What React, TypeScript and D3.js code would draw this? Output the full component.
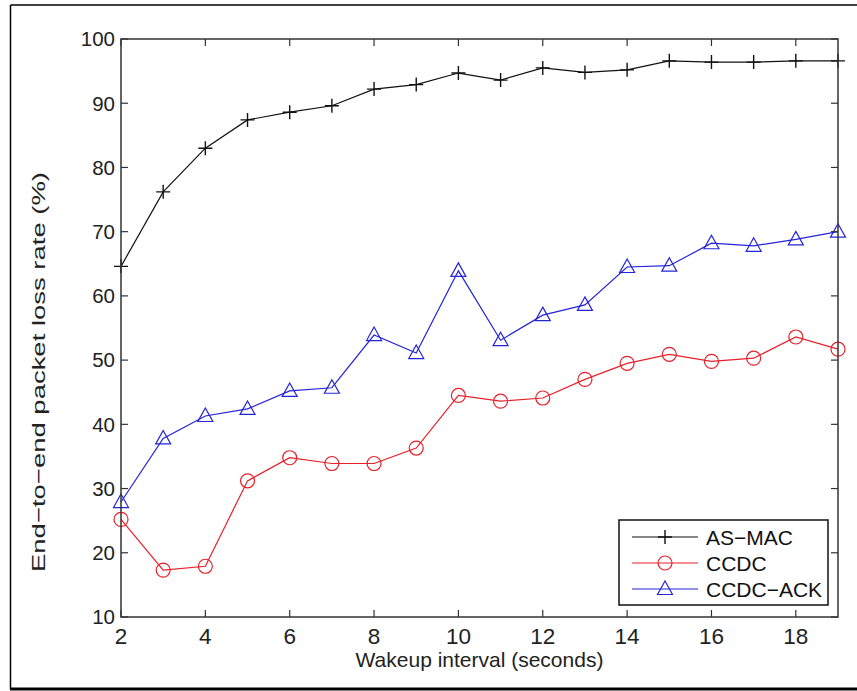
import React from "react";
import * as d3 from "d3";

// wakeup interval (s)
const intervals = [2, 3, 4, 5, 6, 7, 8, 9, 10, 11, 12, 13, 14, 15, 16, 17, 18, 19];

// end-to-end packet loss rate (%)
const asMac = [64.6, 76.2, 83.0, 87.4, 88.6, 89.6, 92.2, 92.9, 94.7, 93.6, 95.5, 94.8, 95.2, 96.6, 96.4, 96.4, 96.6, 96.6];
const ccdc = [25.2, 17.3, 17.9, 31.2, 34.8, 33.9, 33.9, 36.3, 44.5, 43.6, 44.1, 47.0, 49.5, 50.9, 49.8, 50.3, 53.6, 51.7];
const ccdcAck = [27.9, 37.8, 41.3, 42.4, 45.2, 45.7, 53.9, 51.1, 63.9, 53.1, 57.0, 58.6, 64.5, 64.7, 68.2, 67.8, 68.8, 70.0];

const xTicks = [2, 4, 6, 8, 10, 12, 14, 16, 18];
const yTicks = [10, 20, 30, 40, 50, 60, 70, 80, 90, 100];

const seriesNames = ["AS\u2212MAC", "CCDC", "CCDC\u2212ACK"];

const W = 857;
const H = 691;
const left = 121;
const right = 838;
const top = 39;
const bottom = 617;
const font = "'Liberation Sans', Arial, Helvetica, sans-serif";

const x = d3.scaleLinear().domain([2, 19]).range([left, right]);
const y = d3.scaleLinear().domain([10, 100]).range([bottom, top]);

const line = d3
  .line<number>()
  .x((d, i) => x(intervals[i]))
  .y((d) => y(d));

// marker drawers
const plus = (cx: number, cy: number, color: string, key: string) => (
  <path
    key={key}
    d={`M${cx - 7},${cy}H${cx + 7}M${cx},${cy - 7}V${cy + 7}`}
    stroke={color}
    strokeWidth={1.4}
    fill="none"
  />
);
const circle = (cx: number, cy: number, color: string, key: string) => (
  <circle key={key} cx={cx} cy={cy} r={7} stroke={color} strokeWidth={1.2} fill="none" />
);
const tri = (cx: number, cy: number, color: string, key: string) => (
  <path
    key={key}
    d={`M${cx},${cy - 8}L${cx + 7.5},${cy + 5.5}L${cx - 7.5},${cy + 5.5}Z`}
    stroke={color}
    strokeWidth={1.2}
    fill="none"
  />
);

const series = [
  { name: seriesNames[0], values: asMac, color: "#111", marker: plus },
  { name: seriesNames[1], values: ccdc, color: "#e8202a", marker: circle },
  { name: seriesNames[2], values: ccdcAck, color: "#2424d8", marker: tri },
];

const App = () => {
  const tick = 7;
  return (
    <div style={{ position: "absolute", left: 0, top: 0 }}>
      <svg width={W} height={H} style={{ display: "block", background: "#fff" }}>
        {/* outer frame */}
        <line x1={10.5} y1={5} x2={W} y2={5} stroke="#000" strokeWidth={1.5} />
        <line x1={10.5} y1={5} x2={10.5} y2={689} stroke="#000" strokeWidth={1.5} />
        <line x1={10} y1={689} x2={W} y2={689} stroke="#000" strokeWidth={3} />

        {/* series */}
        {series.map((s) => (
          <g key={s.name}>
            <path d={line(s.values) || ""} fill="none" stroke={s.color} strokeWidth={1.2} />
            {s.values.map((v, i) => s.marker(x(intervals[i]), y(v), s.color, `${s.name}-${i}`))}
          </g>
        ))}

        {/* axes box and ticks */}
        <rect x={left} y={top} width={right - left} height={bottom - top} fill="none" stroke="#333" strokeWidth={1.5} />
        {xTicks.map((t) => (
          <g key={`xt${t}`}>
            <line x1={x(t)} x2={x(t)} y1={bottom} y2={bottom - tick} stroke="#333" strokeWidth={1.2} />
            <line x1={x(t)} x2={x(t)} y1={top} y2={top + tick} stroke="#333" strokeWidth={1.2} />
            <text x={x(t)} y={643.5} textAnchor="middle" fontFamily={font} fontSize={22.5} fill="#222">
              {t}
            </text>
          </g>
        ))}
        {yTicks.map((t) => (
          <g key={`yt${t}`}>
            <line x1={left} x2={left + tick} y1={y(t)} y2={y(t)} stroke="#333" strokeWidth={1.2} />
            <line x1={right} x2={right - tick} y1={y(t)} y2={y(t)} stroke="#333" strokeWidth={1.2} />
            <text x={115} y={y(t) + 7.3} textAnchor="end" fontFamily={font} fontSize={20.5} fill="#222">
              {t}
            </text>
          </g>
        ))}

        {/* axis titles */}
        <text x={(left + right) / 2} y={667} textAnchor="middle" fontFamily={font} fontSize={21} fill="#222">
          Wakeup interval (seconds)
        </text>
        <text
          transform={`translate(45,372) rotate(-90)`}
          textAnchor="middle"
          fontFamily={font}
          fontSize={19}
          fill="#222"
          textLength={400}
          lengthAdjust="spacingAndGlyphs"
        >
          End{"\u2212"}to{"\u2212"}end packet loss rate (%)
        </text>

        {/* legend */}
        <rect x={619} y={520} width={209} height={85} fill="#fff" stroke="#111" strokeWidth={1.5} />
        {series.map((s, i) => {
          const ly = 537 + i * 26;
          return (
            <g key={`lg${s.name}`}>
              <line x1={632} x2={698} y1={ly} y2={ly} stroke={s.color} strokeWidth={1.2} />
              {s.marker(665, ly, s.color, `lgm${i}`)}
              <text x={706} y={ly + 7.5} fontFamily={font} fontSize={21} fill="#111">
                {s.name}
              </text>
            </g>
          );
        })}
      </svg>
    </div>
  );
};

export default App;
